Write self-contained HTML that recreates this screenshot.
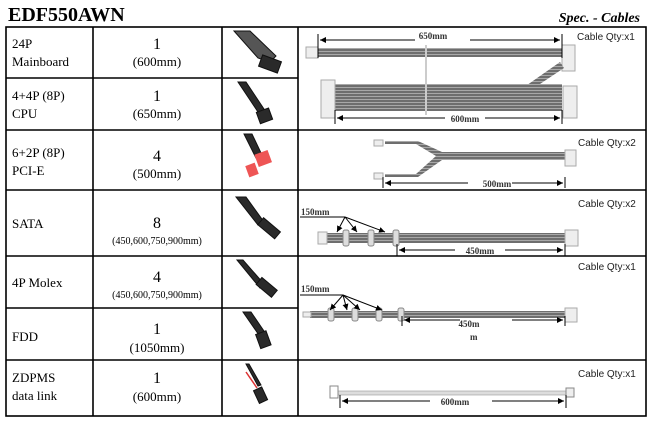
<!DOCTYPE html>
<html><head><meta charset="utf-8"><style>
body{margin:0;background:#fff;width:650px;height:422px;overflow:hidden}
svg{display:block}
.s{font-family:"Liberation Serif",serif;fill:#000}
.a{font-family:"Liberation Sans",sans-serif;font-size:10px;fill:#222}
.d{font-family:"Liberation Serif",serif;font-size:9px;font-weight:bold;fill:#333}
</style></head><body>
<svg width="650" height="422" viewBox="0 0 650 422" xmlns="http://www.w3.org/2000/svg">
<defs>
<pattern id="st" width="3" height="3" patternUnits="userSpaceOnUse"><rect width="3" height="3" fill="#6e6e6e"/><rect width="3" height="1" fill="#a8a8a8"/></pattern>
<marker id="ar" markerWidth="6" markerHeight="6" refX="6" refY="3" orient="auto"><path d="M0,0L6,3L0,6z" fill="#000"/></marker>
</defs>
<text x="8" y="21" class="s" font-size="20" font-weight="bold">EDF550AWN</text>
<text x="640" y="22" class="s" font-size="14" font-weight="bold" font-style="italic" text-anchor="end">Spec. - Cables</text>
<g stroke="#000" stroke-width="1.6" fill="none">
<rect x="6" y="27" width="640" height="389"/>
<line x1="93" y1="27" x2="93" y2="416"/><line x1="222" y1="27" x2="222" y2="416"/><line x1="298" y1="27" x2="298" y2="416"/>
<line x1="6" y1="78" x2="298" y2="78"/><line x1="6" y1="130" x2="646" y2="130"/><line x1="6" y1="190" x2="646" y2="190"/>
<line x1="6" y1="256" x2="646" y2="256"/><line x1="6" y1="308" x2="298" y2="308"/><line x1="6" y1="360" x2="646" y2="360"/>
</g>
<g class="s" font-size="13">
<text x="12" y="48">24P</text><text x="12" y="66">Mainboard</text>
<text x="12" y="100">4+4P (8P)</text><text x="12" y="118">CPU</text>
<text x="12" y="157">6+2P (8P)</text><text x="12" y="175">PCI-E</text>
<text x="12" y="228">SATA</text>
<text x="12" y="287">4P Molex</text>
<text x="12" y="341">FDD</text>
<text x="12" y="382">ZDPMS</text><text x="12" y="400">data link</text>
</g>
<g class="s" text-anchor="middle">
<text x="157" y="49" font-size="16">1</text><text x="157" y="66" font-size="13">(600mm)</text>
<text x="157" y="101" font-size="16">1</text><text x="157" y="118" font-size="13">(650mm)</text>
<text x="157" y="161" font-size="16">4</text><text x="157" y="178" font-size="13">(500mm)</text>
<text x="157" y="228" font-size="16">8</text><text x="157" y="244" font-size="10">(450,600,750,900mm)</text>
<text x="157" y="282" font-size="16">4</text><text x="157" y="298" font-size="10">(450,600,750,900mm)</text>
<text x="157" y="334" font-size="16">1</text><text x="157" y="352" font-size="13">(1050mm)</text>
<text x="157" y="383" font-size="16">1</text><text x="157" y="401" font-size="13">(600mm)</text>
</g>
<!-- cable photos -->
<g fill="#2a2a2a" stroke="#111">
<path d="M234,31 L250,31 L276,56 L270,62 L258,58 Z" fill="#555"/><rect x="260" y="58" width="20" height="12" transform="rotate(20 270 64)"/>
<path d="M238,82 L246,82 L266,112 L260,115 Z"/><rect x="258" y="110" width="13" height="12" transform="rotate(-20 264 116)"/>
<path d="M244,134 L252,134 L262,155 L256,158 Z"/>
<path d="M236,197 L246,197 L264,222 L258,225 Z"/><rect x="258" y="223" width="22" height="9" transform="rotate(40 268 228)"/>
<path d="M237,260 L243,260 L264,284 L260,288 Z"/><rect x="257" y="283" width="20" height="9" transform="rotate(40 267 287)"/>
<path d="M243,312 L251,312 L266,334 L261,338 Z"/><rect x="258" y="332" width="11" height="15" transform="rotate(-20 264 340)"/>
<path d="M246,364 L249,364 L261,385 L258,386 Z"/><rect x="256" y="388" width="9" height="14" transform="rotate(-25 261 395)"/>
</g>
<rect x="256" y="152" width="14" height="13" fill="#e55" transform="rotate(-20 263 158)"/>
<rect x="247" y="164" width="10" height="12" fill="#e55" transform="rotate(-20 252 170)"/>
<line x1="246" y1="372" x2="257" y2="388" stroke="#d33" stroke-width="1.5"/>
<!-- Qty -->
<g class="a"><text x="577" y="40">Cable Qty:x1</text><text x="578" y="146">Cable Qty:x2</text><text x="578" y="207">Cable Qty:x2</text><text x="578" y="270">Cable Qty:x1</text><text x="578" y="377">Cable Qty:x1</text></g>
<!-- 24P -->
<g stroke="#000" stroke-width="1">
<rect x="318" y="48" width="244" height="9" fill="url(#st)" stroke="none"/>
<rect x="306" y="47" width="12" height="11" fill="#eee" stroke="#aaa"/>
<rect x="562" y="45" width="13" height="26" fill="#eee" stroke="#aaa"/>
<path d="M520,90 L560,62 L564,68 L528,92 Z" fill="url(#st)" stroke="none"/>
<rect x="335" y="84" width="227" height="27" fill="url(#st)" stroke="none"/>
<rect x="321" y="80" width="14" height="38" fill="#eee" stroke="#aaa"/>
<rect x="563" y="86" width="14" height="32" fill="#eee" stroke="#aaa"/>
<line x1="426" y1="45" x2="426" y2="115" stroke="#ccc" stroke-width="2"/>
<line x1="318" y1="34" x2="318" y2="58"/><line x1="562" y1="34" x2="562" y2="58"/>
<line x1="415" y1="40" x2="320" y2="40" marker-end="url(#ar)"/><line x1="470" y1="40" x2="560" y2="40" marker-end="url(#ar)"/>
<line x1="335" y1="110" x2="335" y2="124"/><line x1="562" y1="110" x2="562" y2="124"/>
<line x1="445" y1="118" x2="337" y2="118" marker-end="url(#ar)"/><line x1="485" y1="118" x2="560" y2="118" marker-end="url(#ar)"/>
</g>
<text x="433" y="39" class="d" text-anchor="middle">650mm</text><text x="465" y="122" class="d" text-anchor="middle">600mm</text>
<!-- PCI-E -->
<g stroke="#000" stroke-width="1">
<path d="M385,141 L418,141 L442,152 L565,152 L565,160 L442,160 L418,177 L385,177 L385,174 L416,174 L436,156 L416,144 L385,144 Z" fill="url(#st)" stroke="none"/>
<rect x="565" y="150" width="11" height="16" fill="#eee" stroke="#aaa"/>
<rect x="374" y="140" width="9" height="6" fill="#eee" stroke="#aaa"/><rect x="374" y="173" width="9" height="6" fill="#eee" stroke="#aaa"/>
<line x1="383" y1="177" x2="383" y2="188"/><line x1="565" y1="177" x2="565" y2="188"/>
<line x1="468" y1="183" x2="385" y2="183" marker-end="url(#ar)"/><line x1="512" y1="183" x2="563" y2="183" marker-end="url(#ar)"/>
</g>
<text x="497" y="187" class="d" text-anchor="middle">500mm</text>
<!-- SATA -->
<g stroke="#000" stroke-width="1">
<rect x="327" y="233" width="238" height="10" fill="url(#st)" stroke="none"/>
<rect x="318" y="232" width="9" height="12" fill="#eee" stroke="#aaa"/>
<rect x="565" y="230" width="13" height="16" fill="#eee" stroke="#aaa"/>
<g fill="#ddd" stroke="#888"><rect x="343" y="230" width="6" height="16" rx="2"/><rect x="368" y="230" width="6" height="16" rx="2"/><rect x="393" y="230" width="6" height="16" rx="2"/></g>
<line x1="300" y1="217" x2="345" y2="217"/>
<line x1="345" y1="217" x2="337" y2="232" marker-end="url(#ar)"/><line x1="345" y1="217" x2="357" y2="232" marker-end="url(#ar)"/><line x1="345" y1="217" x2="385" y2="232" marker-end="url(#ar)"/>
<line x1="397" y1="244" x2="397" y2="256"/><line x1="565" y1="244" x2="565" y2="256"/>
<line x1="455" y1="250" x2="399" y2="250" marker-end="url(#ar)"/><line x1="505" y1="250" x2="563" y2="250" marker-end="url(#ar)"/>
</g>
<text x="301" y="215" class="d">150mm</text><text x="480" y="254" class="d" text-anchor="middle">450mm</text>
<!-- Molex -->
<g stroke="#000" stroke-width="1">
<rect x="310" y="311" width="255" height="7" fill="url(#st)" stroke="none"/>
<rect x="303" y="312" width="8" height="5" fill="#eee" stroke="#aaa"/>
<rect x="565" y="308" width="12" height="14" fill="#eee" stroke="#aaa"/>
<g fill="#ddd" stroke="#888"><rect x="328" y="308" width="6" height="13" rx="2"/><rect x="352" y="308" width="6" height="13" rx="2"/><rect x="376" y="308" width="6" height="13" rx="2"/><rect x="398" y="308" width="6" height="13" rx="2"/></g>
<line x1="300" y1="295" x2="343" y2="295"/>
<line x1="343" y1="295" x2="330" y2="310" marker-end="url(#ar)"/><line x1="343" y1="295" x2="347" y2="310" marker-end="url(#ar)"/><line x1="343" y1="295" x2="360" y2="310" marker-end="url(#ar)"/><line x1="343" y1="295" x2="382" y2="310" marker-end="url(#ar)"/>
<line x1="402" y1="316" x2="402" y2="326"/><line x1="565" y1="316" x2="565" y2="326"/>
<line x1="460" y1="320" x2="404" y2="320" marker-end="url(#ar)"/><line x1="512" y1="320" x2="563" y2="320" marker-end="url(#ar)"/>
</g>
<text x="301" y="292" class="d">150mm</text><text x="469" y="327" class="d" text-anchor="middle">450m</text><text x="470" y="340" class="d">m</text>
<!-- ZDPMS -->
<g stroke="#000" stroke-width="1">
<rect x="338" y="391" width="228" height="4" fill="#ddd" stroke="#999" stroke-width="0.6"/>
<rect x="330" y="386" width="8" height="12" fill="#fff" stroke="#888"/>
<rect x="566" y="388" width="8" height="9" fill="#eee" stroke="#888"/>
<line x1="340" y1="395" x2="340" y2="408"/><line x1="566" y1="395" x2="566" y2="408"/>
<line x1="430" y1="401" x2="342" y2="401" marker-end="url(#ar)"/><line x1="492" y1="401" x2="564" y2="401" marker-end="url(#ar)"/>
</g>
<text x="455" y="405" class="d" text-anchor="middle">600mm</text>
</svg>
</body></html>
